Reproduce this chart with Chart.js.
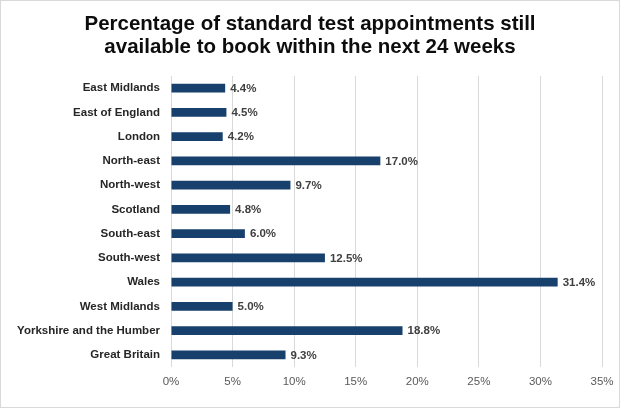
<!DOCTYPE html>
<html>
<head>
<meta charset="utf-8">
<script src="https://cdn.jsdelivr.net/npm/chart.js@4/dist/chart.umd.min.js"></script>
<style>
  html, body { margin: 0; padding: 0; background: #ffffff; }
  #wrap { width: 618px; height: 406px; border: 1px solid #d9d9d9; background: #fff; }
  canvas { display: block; }
</style>
</head>
<body>
<div id="wrap"><canvas id="c" width="618" height="406"></canvas></div>
<script>
const titleLines = ["Percentage of standard test appointments still", "available to book within the next 24 weeks"];
const regions = ["East Midlands", "East of England", "London", "North-east", "North-west", "Scotland", "South-east", "South-west", "Wales", "West Midlands", "Yorkshire and the Humber", "Great Britain"];
const percentAvailable = [4.4, 4.5, 4.2, 17.0, 9.7, 4.8, 6.0, 12.5, 31.4, 5.0, 18.8, 9.3];
const xTickMax = 35;
const xTickStep = 5;

const FONT = "'Liberation Sans', Arial, sans-serif";

const valueLabels = {
  id: 'valueLabels',
  afterDatasetsDraw(chart) {
    const ctx = chart.ctx;
    const meta = chart.getDatasetMeta(0);
    ctx.save();
    ctx.font = "bold 11.5px " + FONT;
    ctx.fillStyle = '#404040';
    ctx.textAlign = 'left';
    ctx.textBaseline = 'middle';
    meta.data.forEach((bar, i) => {
      const v = chart.data.datasets[0].data[i];
      ctx.fillText(v.toFixed(1) + '%', bar.x + 5, bar.y + 0.5);
    });
    ctx.restore();
  }
};

new Chart(document.getElementById('c'), {
  type: 'bar',
  data: {
    labels: regions,
    datasets: [{
      data: percentAvailable,
      backgroundColor: '#17406D',
      borderWidth: 0,
      barPercentage: 0.72,
      categoryPercentage: 0.5
    }]
  },
  options: {
    indexAxis: 'y',
    responsive: false,
    animation: false,
    devicePixelRatio: 1,
    layout: { padding: 0 },
    plugins: {
      legend: { display: false },
      tooltip: { enabled: false },
      title: {
        display: true,
        text: titleLines,
        color: '#0d0d0d',
        font: { family: FONT, size: 20.5, weight: 'bold', lineHeight: '23px' },
        padding: { top: 12, bottom: 17 }
      }
    },
    scales: {
      x: {
        min: 0,
        max: xTickMax,
        ticks: {
          stepSize: xTickStep,
          padding: 8,
          color: '#595959',
          font: { family: FONT, size: 11.5 },
          callback: v => v + '%'
        },
        grid: { color: '#d9d9d9', drawTicks: false, lineWidth: 1 },
        border: { display: false },
        afterFit: s => { s.height = 40; s.paddingLeft = 0; s.paddingRight = 17; }
      },
      y: {
        ticks: {
          padding: 11,
          color: '#262626',
          font: { family: FONT, size: 11.5, weight: 'bold' }
        },
        grid: { display: false, drawTicks: false },
        border: { display: false },
        afterFit: s => { s.width = 170; s.paddingTop = 0; s.paddingBottom = 0; }
      }
    }
  },
  plugins: [valueLabels]
});
</script>
</body>
</html>
